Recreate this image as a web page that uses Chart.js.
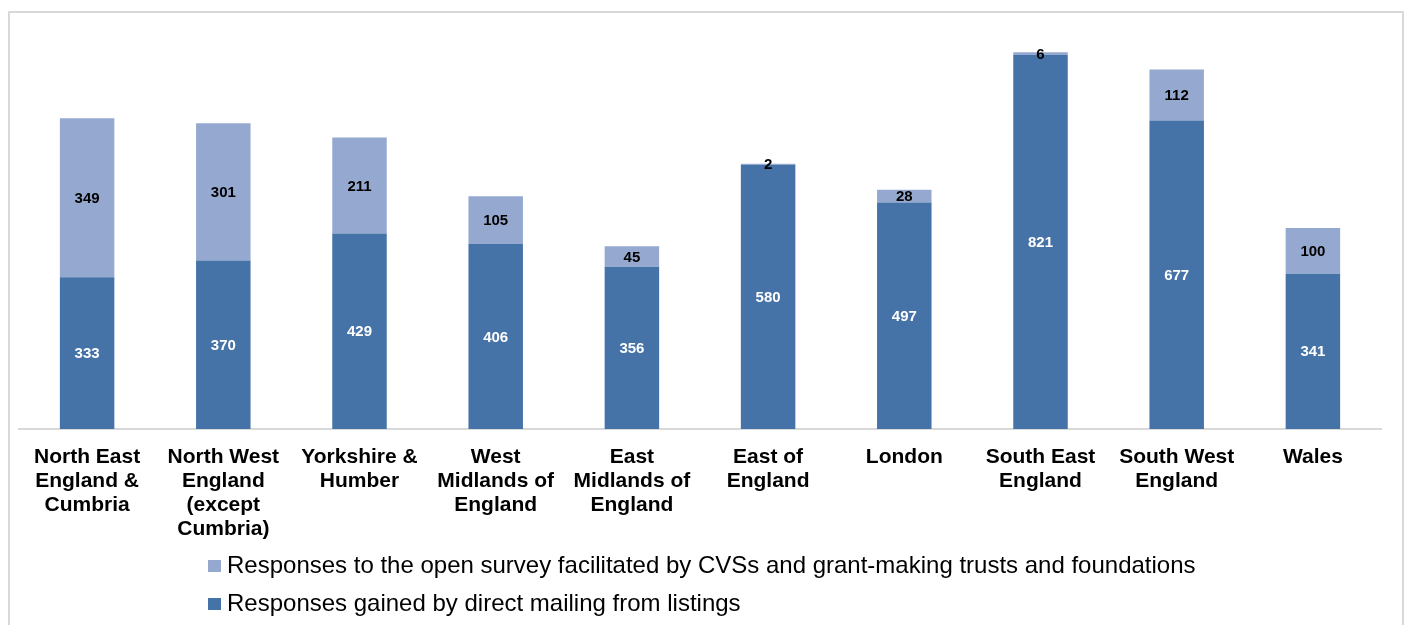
<!DOCTYPE html>
<html>
<head>
<meta charset="utf-8">
<script src="https://cdn.jsdelivr.net/npm/chart.js@4/dist/chart.umd.min.js"></script>
<style>
  body { margin: 0; background: #ffffff; font-family: "Liberation Sans", Arial, sans-serif; }
  #frame {
    position: absolute; left: 8px; top: 11px; width: 1392px; height: 640px;
    border: 2px solid #d9d9d9; border-bottom: none;
  }
  #wrap { position: absolute; left: 0; top: 0; width: 1408px; height: 625px; }
  #legend { position: absolute; left: 208px; top: 546px; }
  .item { height: 38px; display: flex; align-items: center; font-size: 24px; color: #000; white-space: nowrap; }
  .box { width: 13px; height: 12px; margin-right: 6px; margin-top: 2px; flex: none; }
</style>
</head>
<body>
<div id="frame"></div>
<div id="wrap"><canvas id="regionChart"></canvas></div>
<div id="legend"></div>

<script>
// --------------------------------------------
// Data
// --------------------------------------------

const regions = [
    ["North East", "England &", "Cumbria"],
    ["North West", "England", "(except", "Cumbria)"],
    ["Yorkshire &", "Humber"],
    ["West", "Midlands of", "England"],
    ["East", "Midlands of", "England"],
    ["East of", "England"],
    ["London"],
    ["South East", "England"],
    ["South West", "England"],
    ["Wales"]
];

const directMailing = [333, 370, 429, 406, 356, 580, 497, 821, 677, 341];

const openSurvey = [349, 301, 211, 105, 45, 2, 28, 6, 112, 100];

const seriesNames = [
    "Responses to the open survey facilitated by CVSs and grant-making trusts and foundations",
    "Responses gained by direct mailing from listings"
];

const darkBlue = "#4572a7";
const lightBlue = "#95a9d0";


// --------------------------------------------
// Value labels inside the bars
// --------------------------------------------

const valueLabels = {

    id: "valueLabels",

    afterDatasetsDraw(chart) {

        const ctx = chart.ctx;

        ctx.save();
        ctx.font = "bold 15px 'Liberation Sans', Arial, sans-serif";
        ctx.textAlign = "center";
        ctx.textBaseline = "middle";

        chart.data.datasets.forEach((dataset, i) => {

            const meta = chart.getDatasetMeta(i);

            meta.data.forEach((bar, j) => {

                const p = bar.getProps(["x", "y", "base"], true);

                ctx.fillStyle = dataset.labelColor;
                ctx.fillText(dataset.data[j], p.x, (p.y + p.base) / 2 + 1);

            });

        });

        ctx.restore();

    }

};


// --------------------------------------------
// Chart
// --------------------------------------------

const regionChart = new Chart(

    document.getElementById("regionChart"),

    {

        type: "bar",

        data: {

            labels: regions,

            datasets: [

                {
                    label: seriesNames[1],
                    data: directMailing,
                    backgroundColor: darkBlue,
                    labelColor: "#ffffff",
                    categoryPercentage: 1,
                    barPercentage: 0.4
                },

                {
                    label: seriesNames[0],
                    data: openSurvey,
                    backgroundColor: lightBlue,
                    labelColor: "#000000",
                    categoryPercentage: 1,
                    barPercentage: 0.4
                }

            ]

        },

        options: {

            responsive: true,

            maintainAspectRatio: false,

            animation: false,

            layout: {
                padding: { left: 19, right: 27, top: 19, bottom: 0 }
            },

            plugins: {
                legend: { display: false },
                tooltip: { enabled: false }
            },

            scales: {

                x: {
                    stacked: true,
                    grid: { display: false },
                    border: { display: true, color: "#d9d9d9", width: 2 },
                    ticks: {
                        color: "#000000",
                        padding: 8,
                        maxRotation: 0,
                        autoSkip: false,
                        font: {
                            family: "'Liberation Sans', Arial, sans-serif",
                            size: 21,
                            weight: "bold",
                            lineHeight: 1.15
                        }
                    },
                    afterFit(scale) {
                        scale.height = 196;
                    }
                },

                y: {
                    stacked: true,
                    display: false,
                    min: 0,
                    max: 900
                }

            }

        },

        plugins: [valueLabels]

    }

);


// --------------------------------------------
// Legend
// --------------------------------------------

const legendColors = [lightBlue, darkBlue];

seriesNames.forEach((name, i) => {

    const row = document.createElement("div");
    row.className = "item";
    row.innerHTML = '<span class="box" style="background:' + legendColors[i] + '"></span>' + name;
    document.getElementById("legend").appendChild(row);

});
</script>
</body>
</html>
